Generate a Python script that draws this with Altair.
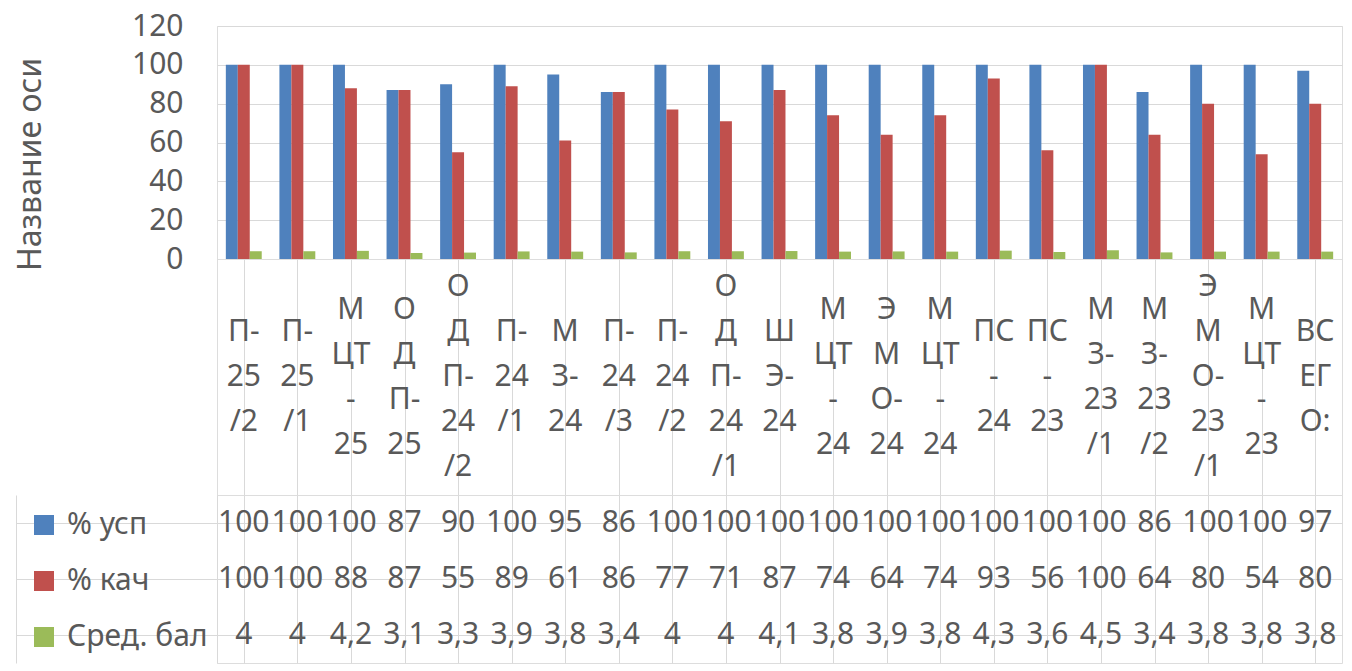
import altair as alt
import pandas as pd

# ---- data ----
categories = ["П-25/2", "П-25/1", "МЦТ-25", "ОДП-25", "ОДП-24/2", "П-24/1", "МЗ-24",
              "П-24/3", "П-24/2", "ОДП-24/1", "ШЭ-24", "МЦТ-24", "ЭМО-24", "МЦТ-24",
              "ПС-24", "ПС-23", "МЗ-23/1", "МЗ-23/2", "ЭМО-23/1", "МЦТ-23", "ВСЕГО:"]
# category tick labels as wrapped in the reference
category_labels = ["П-\n25\n/2", "П-\n25\n/1", "М\nЦТ\n-\n25", "О\nД\nП-\n25", "О\nД\nП-\n24\n/2",
                   "П-\n24\n/1", "М\nЗ-\n24", "П-\n24\n/3", "П-\n24\n/2", "О\nД\nП-\n24\n/1",
                   "Ш\nЭ-\n24", "М\nЦТ\n-\n24", "Э\nМ\nО-\n24", "М\nЦТ\n-\n24", "ПС\n-\n24",
                   "ПС\n-\n23", "М\nЗ-\n23\n/1", "М\nЗ-\n23\n/2", "Э\nМ\nО-\n23\n/1", "М\nЦТ\n-\n23",
                   "ВС\nЕГ\nО:"]
series_names = ["% усп", "% кач", "Сред. бал"]
usp = [100, 100, 100, 87, 90, 100, 95, 86, 100, 100, 100, 100, 100, 100, 100, 100, 100, 86, 100, 100, 97]
kach = [100, 100, 88, 87, 55, 89, 61, 86, 77, 71, 87, 74, 64, 74, 93, 56, 100, 64, 80, 54, 80]
bal = [4, 4, 4.2, 3.1, 3.3, 3.9, 3.8, 3.4, 4, 4, 4.1, 3.8, 3.9, 3.8, 4.3, 3.6, 4.5, 3.4, 3.8, 3.8, 3.8]
series_colors = ["#4F81BD", "#C0504D", "#9BBB59"]
y_ticks = [0, 20, 40, 60, 80, 100, 120]


def fmt(v):
    return f"{v:g}".replace(".", ",")


rows = []
for s, vals in zip(series_names, [usp, kach, bal]):
    for i, v in enumerate(vals):
        rows.append({"idx": i, "category": categories[i], "series": s, "value": v, "text": fmt(v)})
df = pd.DataFrame(rows)

# one row per wrapped label line; "pos" = line slot relative to the block centre
label_rows = []
for i, lab in enumerate(category_labels):
    lines = lab.split("\n")
    n = len(lines)
    for k, ln in enumerate(lines):
        label_rows.append({"idx": i, "line": ln, "pos": (n - 1) / 2 - k})
df_lab = pd.DataFrame(label_rows)
idx_domain = list(range(len(categories)))

FONT = "Noto Sans"
GRAY = "#595959"
GRID = "#D9D9D9"
FS = 30
W = 1125
H_BAR = 233
H_LAB = 236
H_TAB = 168
LINE_H = 45
half = H_LAB / LINE_H / 2

bars = alt.Chart(df).mark_bar().encode(
    x=alt.X("idx:O", scale=alt.Scale(domain=idx_domain, paddingInner=0.33, paddingOuter=0.165),
            axis=alt.Axis(labels=False, ticks=False, title=None, domain=True, domainColor=GRID, grid=False)),
    xOffset=alt.XOffset("series:N", scale=alt.Scale(domain=series_names, paddingInner=0, paddingOuter=0)),
    y=alt.Y("value:Q", scale=alt.Scale(domain=[0, 120], nice=False),
            axis=alt.Axis(values=y_ticks, title="Название оси", domain=False, ticks=False,
                          grid=True, gridColor=GRID, labelFont=FONT, labelFontSize=FS,
                          labelColor=GRAY, labelPadding=34, titleFont=FONT, titleFontSize=32,
                          titleFontWeight="normal", titleColor=GRAY, titlePadding=84, titleY=138)),
    color=alt.Color("series:N", scale=alt.Scale(domain=series_names, range=series_colors),
                    legend=alt.Legend(orient="none", legendX=-188, legendY=484, direction="vertical",
                                      title=None, symbolType="square", symbolSize=400,
                                      symbolStrokeWidth=0, symbolOpacity=1, labelFont=FONT,
                                      labelFontSize=FS, labelColor=GRAY, rowPadding=26,
                                      labelOffset=8, padding=0, labelLimit=400)),
).properties(width=W, height=H_BAR)

labels = alt.Chart(df_lab).mark_text(font=FONT, fontSize=FS, color=GRAY, baseline="middle").encode(
    x=alt.X("idx:O", scale=alt.Scale(domain=idx_domain, paddingInner=0, paddingOuter=0),
            axis=alt.Axis(labels=False, ticks=False, domain=False, title=None, grid=True,
                          gridColor=GRID, bandPosition=0)),
    y=alt.Y("pos:Q", scale=alt.Scale(domain=[-half, half], nice=False, zero=False), axis=None),
    text="line:N",
).properties(width=W, height=H_LAB)

table_text = alt.Chart(df).mark_text(font=FONT, fontSize=FS, color=GRAY, baseline="middle").encode(
    x=alt.X("idx:O", scale=alt.Scale(domain=idx_domain, paddingInner=0, paddingOuter=0),
            axis=alt.Axis(labels=False, ticks=False, domain=False, title=None, grid=True,
                          gridColor=GRID, bandPosition=0)),
    y=alt.Y("series:N", scale=alt.Scale(domain=series_names, paddingInner=0, paddingOuter=0),
            axis=alt.Axis(labels=False, ticks=True, tickSize=201, tickColor=GRID, domain=True,
                          domainColor=GRID, grid=True, gridColor=GRID, bandPosition=0, title=None)),
    text="text:N",
)
table_border = alt.Chart(df).mark_point(opacity=0, size=1).encode(
    y=alt.Y("series:N", scale=alt.Scale(domain=series_names, paddingInner=0, paddingOuter=0),
            axis=alt.Axis(orient="left", offset=201, labels=False, ticks=False, domain=True,
                          domainColor=GRID, grid=False, title=None)),
)
table = alt.layer(table_text, table_border).resolve_scale(y="independent").properties(width=W, height=H_TAB)

chart = alt.vconcat(bars, labels, table, spacing=0, bounds="flush").properties(
    padding={"left": 6, "top": 2, "right": 0, "bottom": 0}
).configure_view(stroke=None).configure(font=FONT, background="white")

chart.save("out.html", embed_options={"renderer": "svg", "actions": False})
